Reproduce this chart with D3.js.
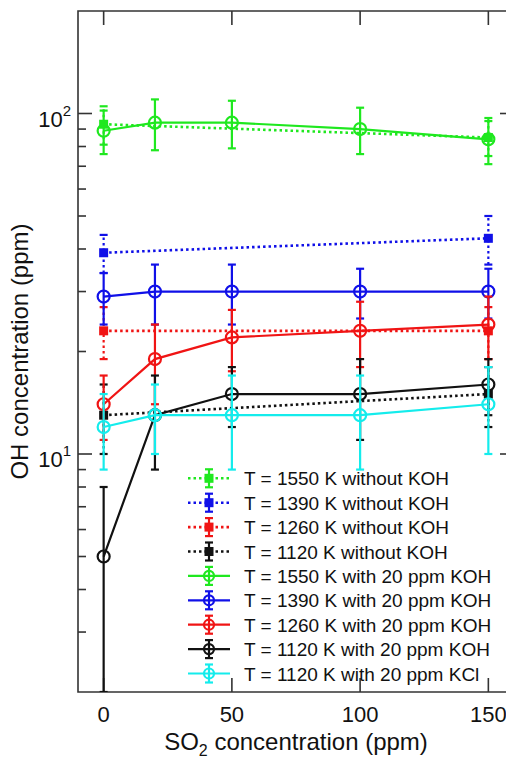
<!DOCTYPE html>
<html>
<head>
<meta charset="utf-8">
<script src="https://cdn.jsdelivr.net/npm/d3@7"></script>
<style>
  body { margin: 0; background: #fff; }
  text { font-family: "Liberation Sans", Arial, sans-serif; fill: #111; }
</style>
</head>
<body>
<script>
// SO2 concentrations (ppm)
let xValues = [0, 20, 50, 100, 150];
let xNoKoh = [0, 150];

// without KOH (dotted)
let noKoh1550 = [93, 85], noKoh1550Err = [12, 10];
let noKoh1390 = [39, 43], noKoh1390Err = [5, 7];
let noKoh1260 = [23, 23], noKoh1260Err = [4, 4];
let noKoh1120 = [13, 15], noKoh1120Err = [3, 3];

// with 20 ppm KOH / KCl (solid)
let koh1550 = [89, 94, 94, 90, 84], koh1550Err = [13, 16, 15, 14, 13];
let koh1390 = [29, 30, 30, 30, 30], koh1390Err = [5, 6, 6, 5, 5];
let koh1260 = [14, 19, 22, 23, 24], koh1260Err = [3, 5, 4.5, 5, 5];
let koh1120 = [5, 13, 15, 15, 16], koh1120Err = [3, 4, 3, 4, 3];
let kcl1120 = [12, 13, 13, 13, 14], kcl1120Err = [3, 3, 4, 4, 4];

let xTicks = [0, 50, 100, 150];
let yMajor = [10, 100];

let series = [
  {name: "T = 1550 K without KOH", x: xNoKoh, y: noKoh1550, e: noKoh1550Err, color: "#1fe81f", dotted: true},
  {name: "T = 1390 K without KOH", x: xNoKoh, y: noKoh1390, e: noKoh1390Err, color: "#1010e8", dotted: true},
  {name: "T = 1260 K without KOH", x: xNoKoh, y: noKoh1260, e: noKoh1260Err, color: "#f01414", dotted: true},
  {name: "T = 1120 K without KOH", x: xNoKoh, y: noKoh1120, e: noKoh1120Err, color: "#111111", dotted: true},
  {name: "T = 1550 K with 20 ppm KOH", x: xValues, y: koh1550, e: koh1550Err, color: "#1fe81f", dotted: false},
  {name: "T = 1390 K with 20 ppm KOH", x: xValues, y: koh1390, e: koh1390Err, color: "#1010e8", dotted: false},
  {name: "T = 1260 K with 20 ppm KOH", x: xValues, y: koh1260, e: koh1260Err, color: "#f01414", dotted: false},
  {name: "T = 1120 K with 20 ppm KOH", x: xValues, y: koh1120, e: koh1120Err, color: "#111111", dotted: false},
  {name: "T = 1120 K with 20 ppm KCl", x: xValues, y: kcl1120, e: kcl1120Err, color: "#14ecec", dotted: false}
];

let width = 506;
let height = 761;
let marginTop = 11;
let marginLeft = 78;
let plotRight = 514;
let plotBottom = 692;

let x = d3.scaleLinear().domain([-10, 160]).range([marginLeft, plotRight]);
let y = d3.scaleLog().domain([2, 200]).range([plotBottom, marginTop]);

let svg = d3.select("body").append("svg")
  .attr("width", width)
  .attr("height", height)
  .attr("viewBox", [0, 0, width, height]);

let dash = "2.5,3";
let capW = 4;

svg.append("clipPath").attr("id", "plot")
  .append("rect")
  .attr("x", marginLeft).attr("y", marginTop)
  .attr("width", plotRight - marginLeft).attr("height", plotBottom - marginTop);

// minor y ticks
let minorTicks = y.ticks(20).filter(v => !yMajor.includes(v) && v > 2 && v < 200);

let axes = svg.append("g").attr("stroke", "#333").attr("stroke-width", 1.6);

// frame
axes.append("path")
  .attr("fill", "none")
  .attr("d", `M${plotRight},${marginTop}H${marginLeft}V${plotBottom}H${plotRight}V${marginTop}`);

// y ticks on both sides, inward
[marginLeft, plotRight].forEach((x0, i) => {
  let dir = i == 0 ? 1 : -1;
  axes.selectAll(null).data(yMajor).join("line")
    .attr("x1", x0).attr("x2", x0 + dir * 14)
    .attr("y1", d => y(d)).attr("y2", d => y(d));
  axes.selectAll(null).data(minorTicks).join("line")
    .attr("x1", x0).attr("x2", x0 + dir * 8)
    .attr("y1", d => y(d)).attr("y2", d => y(d));
});

// x ticks top and bottom, inward
[marginTop, plotBottom].forEach((y0, i) => {
  let dir = i == 0 ? 1 : -1;
  axes.selectAll(null).data(xTicks).join("line")
    .attr("x1", d => x(d)).attr("x2", d => x(d))
    .attr("y1", y0).attr("y2", y0 + dir * 14);
});

// tick labels
svg.append("g").selectAll("text").data(xTicks).join("text")
  .attr("x", d => x(d))
  .attr("y", 722)
  .attr("text-anchor", "middle")
  .style("font-size", "22px")
  .text(d => d);

let yLab = svg.append("g").selectAll("text").data(yMajor).join("text")
  .attr("x", 71)
  .attr("y", d => y(d) + 13)
  .attr("text-anchor", "end")
  .style("font-size", "22px");
yLab.append("tspan").text("10");
yLab.append("tspan").attr("dy", -11).style("font-size", "15px").text(d => Math.round(Math.log10(d)));

// axis titles
let xt = svg.append("text")
  .attr("x", (marginLeft + plotRight) / 2)
  .attr("y", 750)
  .attr("text-anchor", "middle")
  .style("font-size", "24px");
xt.append("tspan").text("SO");
xt.append("tspan").attr("dy", 6).style("font-size", "16px").text("2");
xt.append("tspan").attr("dy", -6).text(" concentration (ppm)");

svg.append("text")
  .attr("transform", `translate(28,${(marginTop + plotBottom) / 2}) rotate(-90)`)
  .attr("text-anchor", "middle")
  .style("font-size", "24px")
  .text("OH concentration (ppm)");

// data
let plot = svg.append("g").attr("clip-path", "url(#plot)");

let line = d3.line().x(d => x(d[0])).y(d => y(d[1]));

series.forEach(s => {
  let pts = s.x.map((v, i) => [v, s.y[i], s.e[i]]);
  let g = plot.append("g");

  // error bars
  g.selectAll(null).data(pts).join("line")
    .attr("x1", d => x(d[0])).attr("x2", d => x(d[0]))
    .attr("y1", d => y(Math.max(d[1] - d[2], 1.5))).attr("y2", d => y(d[1] + d[2]))
    .attr("stroke", s.color).attr("stroke-width", 2.2)
    .attr("stroke-dasharray", s.dotted ? dash : null);
  [1, -1].forEach(sign => {
    g.selectAll(null).data(pts).join("line")
      .attr("x1", d => x(d[0]) - capW).attr("x2", d => x(d[0]) + capW)
      .attr("y1", d => y(d[1] + sign * d[2])).attr("y2", d => y(d[1] + sign * d[2]))
      .attr("stroke", s.color).attr("stroke-width", 2.2);
  });

  g.append("path").datum(pts)
    .attr("fill", "none")
    .attr("stroke", s.color)
    .attr("stroke-width", s.dotted ? 2.6 : 2.2)
    .attr("stroke-dasharray", s.dotted ? dash : null)
    .attr("d", line);

  if (s.dotted) {
    g.selectAll(null).data(pts).join("rect")
      .attr("x", d => x(d[0]) - 4.5).attr("y", d => y(d[1]) - 4.5)
      .attr("width", 9).attr("height", 9)
      .attr("fill", s.color);
  } else {
    g.selectAll(null).data(pts).join("circle")
      .attr("cx", d => x(d[0])).attr("cy", d => y(d[1]))
      .attr("r", 6)
      .attr("fill", "none")
      .attr("stroke", s.color).attr("stroke-width", 2.2);
  }
});

// legend
let legend = svg.append("g");
let rowH = 24.4;
let legY = 478.3;
let symX = 209;

series.forEach((s, i) => {
  let cy = legY + i * rowH;
  let g = legend.append("g");
  g.append("line")
    .attr("x1", symX - 21).attr("x2", symX + 21)
    .attr("y1", cy).attr("y2", cy)
    .attr("stroke", s.color).attr("stroke-width", s.dotted ? 2.6 : 2.2)
    .attr("stroke-dasharray", s.dotted ? dash : null);
  g.append("line")
    .attr("x1", symX).attr("x2", symX)
    .attr("y1", cy - 9).attr("y2", cy + 9)
    .attr("stroke", s.color).attr("stroke-width", 2.2);
  [-9, 9].forEach(o => g.append("line")
    .attr("x1", symX - capW).attr("x2", symX + capW)
    .attr("y1", cy + o).attr("y2", cy + o)
    .attr("stroke", s.color).attr("stroke-width", 2.2));
  if (s.dotted) {
    g.append("rect")
      .attr("x", symX - 4.5).attr("y", cy - 4.5)
      .attr("width", 9).attr("height", 9)
      .attr("fill", s.color);
  } else {
    g.append("circle")
      .attr("cx", symX).attr("cy", cy).attr("r", 5)
      .attr("fill", "none")
      .attr("stroke", s.color).attr("stroke-width", 2.2);
  }
  g.append("text")
    .attr("x", 244)
    .attr("y", cy + 7)
    .style("font-size", "19px")
    .text(s.name);
});
</script>
</body>
</html>
